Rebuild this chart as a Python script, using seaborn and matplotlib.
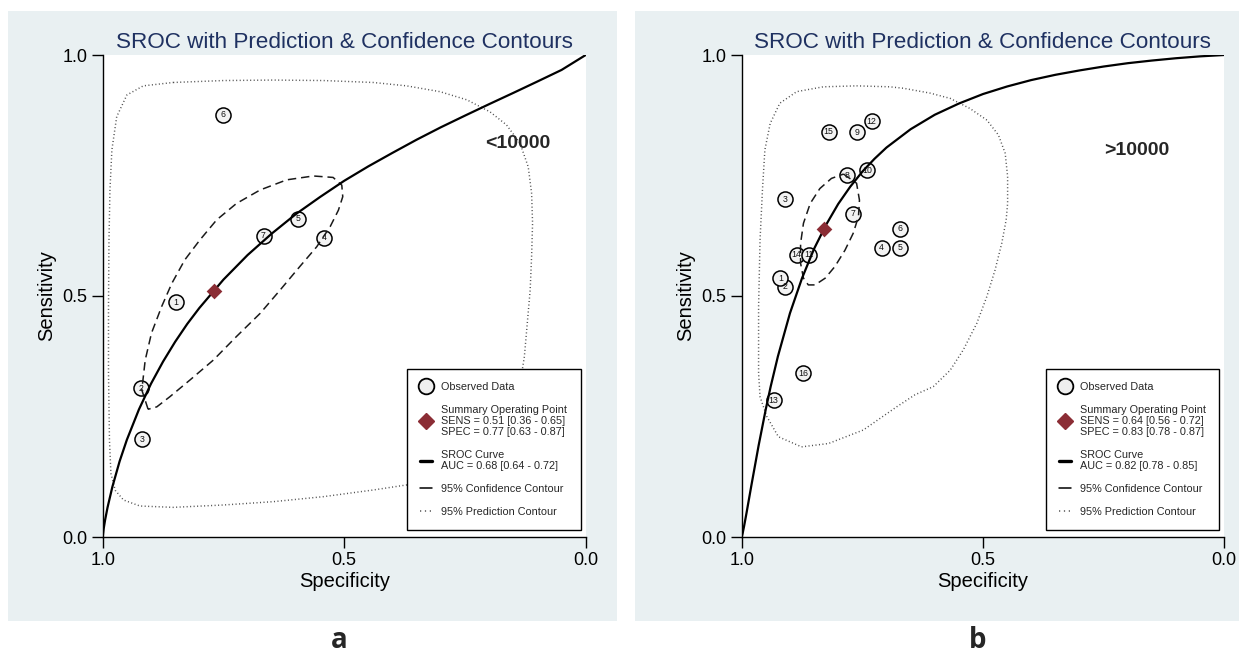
import numpy as np
import pandas as pd
import matplotlib
matplotlib.use("Agg")
import matplotlib.pyplot as plt
import seaborn as sns
from matplotlib.lines import Line2D
from matplotlib.patches import Rectangle

sns.set_style("white")
plt.rcParams["font.family"] = ["Liberation Sans", "DejaVu Sans"]

# ---------------- data: panel a (<10000) ----------------
a_ids = [1, 2, 3, 4, 5, 6, 7]
a_spec = [0.849, 0.921, 0.919, 0.541, 0.596, 0.750, 0.667]
a_sens = [0.487, 0.309, 0.203, 0.621, 0.660, 0.876, 0.625]
a_sum_spec = 0.77
a_sum_sens = 0.51
a_curve_spec = [1.0, 0.998, 0.995, 0.99, 0.98, 0.965, 0.95, 0.925, 0.9, 0.875, 0.85, 0.825,
                 0.8, 0.75, 0.7, 0.65, 0.6, 0.55, 0.5, 0.45, 0.4, 0.35, 0.3, 0.25, 0.2, 0.15,
                 0.1, 0.05, 0.0]
a_curve_sens = [0.0, 0.017, 0.0355, 0.0612, 0.104, 0.157, 0.2016, 0.2646, 0.318, 0.364, 0.405, 0.442,
                0.475, 0.534, 0.585, 0.6295, 0.670, 0.7054, 0.739, 0.769, 0.797, 0.8243, 0.850,
                0.8742, 0.898, 0.9213, 0.945, 0.969, 1.0]
a_conf_spec = [0.906, 0.919, 0.912, 0.899, 0.878, 0.857, 0.830, 0.799, 0.764, 0.723, 0.674, 0.619,
               0.564, 0.523, 0.505, 0.503, 0.512, 0.529, 0.557, 0.592, 0.633, 0.674, 0.723, 0.771,
               0.819, 0.861, 0.888]
a_conf_sens = [0.265, 0.305, 0.367, 0.423, 0.478, 0.526, 0.575, 0.616, 0.658, 0.692, 0.720, 0.741,
               0.749, 0.746, 0.730, 0.706, 0.678, 0.644, 0.602, 0.561, 0.512, 0.464, 0.416, 0.367,
               0.326, 0.291, 0.270]
a_pred_spec = [0.854, 0.750, 0.647, 0.543, 0.440, 0.371, 0.302, 0.246, 0.198, 0.164, 0.136, 0.119,
               0.112, 0.110, 0.112, 0.115, 0.121, 0.127, 0.139, 0.164, 0.205, 0.267, 0.322, 0.371,
               0.440, 0.543, 0.647, 0.750, 0.854, 0.923, 0.957, 0.974, 0.983, 0.986, 0.988, 0.988,
               0.987, 0.985, 0.981, 0.971, 0.950, 0.916]
a_pred_sens = [0.943, 0.947, 0.948, 0.947, 0.943, 0.936, 0.924, 0.907, 0.882, 0.855, 0.817, 0.768,
               0.713, 0.651, 0.582, 0.512, 0.443, 0.374, 0.298, 0.229, 0.174, 0.136, 0.115, 0.108,
               0.0975, 0.0837, 0.0733, 0.0664, 0.0615, 0.0643, 0.0768, 0.0968, 0.132, 0.201, 0.340, 0.478,
               0.616, 0.720, 0.803, 0.872, 0.917, 0.936]
a_group = "<10000"
a_group_pos = (0.140, 0.816)
a_legend = ["Observed Data",
            "Summary Operating Point\nSENS = 0.51 [0.36 - 0.65]\nSPEC = 0.77 [0.63 - 0.87]",
            "SROC Curve\nAUC = 0.68 [0.64 - 0.72]",
            "95% Confidence Contour",
            "95% Prediction Contour"]

# ---------------- data: panel b (>10000) ----------------
b_ids = [1, 2, 3, 4, 5, 6, 7, 8, 9, 10, 11, 12, 13, 14, 15, 16]
b_spec = [0.920, 0.910, 0.910, 0.710, 0.671, 0.671, 0.770, 0.781, 0.761, 0.740, 0.860, 0.731,
          0.934, 0.886, 0.820, 0.872]
b_sens = [0.537, 0.519, 0.701, 0.600, 0.600, 0.640, 0.671, 0.751, 0.840, 0.761, 0.586, 0.863,
          0.284, 0.586, 0.841, 0.340]
b_sum_spec = 0.83
b_sum_sens = 0.64
b_curve_spec = [1.0, 0.998, 0.995, 0.99, 0.98, 0.965, 0.95, 0.94, 0.925, 0.9, 0.875, 0.85, 0.825,
                0.8, 0.775, 0.75, 0.725, 0.7, 0.65, 0.6, 0.55, 0.5, 0.45, 0.4, 0.35, 0.3, 0.25,
                0.2, 0.15, 0.1, 0.05, 0.0]
b_curve_sens = [0.0, 0.0079, 0.0227, 0.0499, 0.1067, 0.1895, 0.2656, 0.312, 0.3747, 0.4643, 0.537,
                0.598, 0.648, 0.691, 0.7269, 0.758, 0.7845, 0.808, 0.846, 0.876, 0.8993, 0.919,
                0.9347, 0.948, 0.9589, 0.968, 0.9761, 0.983, 0.9885, 0.9933, 0.9972, 1.0]
b_conf_spec = [0.789, 0.762, 0.756, 0.758, 0.769, 0.786, 0.807, 0.827, 0.848, 0.862, 0.872, 0.878,
               0.878, 0.872, 0.858, 0.838, 0.814]
b_conf_sens = [0.753, 0.734, 0.699, 0.665, 0.630, 0.595, 0.561, 0.537, 0.523, 0.523, 0.537, 0.568,
               0.609, 0.651, 0.692, 0.723, 0.744]
b_pred_spec = [0.762, 0.693, 0.665, 0.610, 0.568, 0.527, 0.492, 0.468, 0.454, 0.449, 0.449, 0.452,
               0.461, 0.475, 0.492, 0.513, 0.541, 0.568, 0.603, 0.641, 0.679, 0.748, 0.820, 0.876,
               0.924, 0.948, 0.962, 0.965, 0.965, 0.962, 0.957, 0.952, 0.941, 0.921, 0.886, 0.831]
b_pred_sens = [0.936, 0.934, 0.931, 0.921, 0.910, 0.889, 0.865, 0.834, 0.796, 0.748, 0.692, 0.658,
               0.610, 0.554, 0.499, 0.443, 0.388, 0.346, 0.312, 0.295, 0.270, 0.222, 0.194, 0.187,
               0.208, 0.250, 0.291, 0.340, 0.478, 0.616, 0.720, 0.803, 0.858, 0.900, 0.924, 0.934]
b_group = ">10000"
b_group_pos = (0.181, 0.801)
b_legend = ["Observed Data",
            "Summary Operating Point\nSENS = 0.64 [0.56 - 0.72]\nSPEC = 0.83 [0.78 - 0.87]",
            "SROC Curve\nAUC = 0.82 [0.78 - 0.85]",
            "95% Confidence Contour",
            "95% Prediction Contour"]

panel_letters = ["a", "b"]
title_text = "SROC with Prediction & Confidence Contours"
tick_vals = [0.0, 0.5, 1.0]
tick_text = ["0.0", "0.5", "1.0"]

# ---------------- styling ----------------
W, H = 1239, 656
BG = "#e9f0f2"
NAVY = "#1f3161"
MAROON = "#8b2d35"
DOT = (0, (0.7, 1.7))
DASH = (0, (5.5, 3.2))

fig = plt.figure(figsize=(W / 100, H / 100), dpi=100)
fig.patch.set_facecolor("white")


def px_rect(x0, y0, x1, y1):
    return [x0 / W, 1 - y1 / H, (x1 - x0) / W, (y1 - y0) / H]


for (x0, y0, x1, y1) in [(8, 11, 617, 621), (635, 11, 1239, 621)]:
    r = px_rect(x0, y0, x1, y1)
    fig.add_artist(Rectangle((r[0], r[1]), r[2], r[3], transform=fig.transFigure,
                             facecolor=BG, edgecolor="none", zorder=0))

ax_a = fig.add_axes(px_rect(102.7, 55, 585.7, 537))
ax_b = fig.add_axes(px_rect(741.7, 55, 1224.3, 537))


def closed(v):
    return list(v) + [v[0]]


def draw_panel(ax, ids, spec, sens, sum_spec, sum_sens, c_spec, c_sens, cf_spec, cf_sens,
               p_spec, p_sens, group, group_pos, legend_labels):
    ax.set_facecolor("white")
    df = pd.DataFrame({"spec": spec, "sens": sens, "id": ids}).iloc[::-1]
    sns.scatterplot(data=df, x="spec", y="sens", marker="o", s=118, color="#f3f3f3",
                    edgecolor="black", linewidth=1.1, zorder=2, ax=ax, legend=False)
    for _, row in df.iterrows():
        ax.text(row["spec"], row["sens"], str(int(row["id"])), fontsize=6.3,
                ha="center", va="center", zorder=3, color="#111111")
    sns.lineplot(x=closed(p_spec), y=closed(p_sens), sort=False, estimator=None,
                 color="#4d4d4d", lw=1.05, linestyle=DOT, zorder=4, ax=ax)
    sns.lineplot(x=closed(cf_spec), y=closed(cf_sens), sort=False, estimator=None,
                 color="#1a1a1a", lw=1.1, linestyle=DASH, zorder=4, ax=ax)
    sns.lineplot(x=c_spec, y=c_sens, sort=False, estimator=None,
                 color="black", lw=1.6, zorder=4, ax=ax)
    sns.scatterplot(x=[sum_spec], y=[sum_sens], marker="D", s=64, color=MAROON,
                    edgecolor=MAROON, linewidth=0, zorder=5, ax=ax, legend=False)

    ax.text(group_pos[0], group_pos[1], group, fontsize=14, fontweight="bold",
            ha="center", va="center", zorder=6)

    ax.set_xlim(1, 0)
    ax.set_ylim(0, 1)
    ax.set_xticks(tick_vals)
    ax.set_xticklabels(tick_text)
    ax.set_yticks(tick_vals)
    ax.set_yticklabels(tick_text)
    sns.despine(ax=ax)
    for s in ["left", "bottom"]:
        ax.spines[s].set_color("black")
        ax.spines[s].set_linewidth(1.0)
    ax.tick_params(direction="out", length=8, width=1.0, labelsize=13, colors="black",
                   left=True, bottom=True)
    ax.tick_params(axis="x", pad=2.5)
    ax.tick_params(axis="y", pad=3)
    ax.set_xlabel("Specificity", fontsize=14.5, color="black")
    ax.set_ylabel("Sensitivity", fontsize=14.5, color="black")
    ax.xaxis.set_label_coords(0.5, -0.072)
    ax.yaxis.set_label_coords(-0.097, 0.5)
    ax.set_title(title_text, fontsize=16.2, color=NAVY, pad=5)

    handles = [
        Line2D([], [], ls="none", marker="o", ms=11.3, mfc="#efefef", mec="black", mew=1.3),
        Line2D([], [], ls="none", marker="D", ms=8.5, mfc=MAROON, mec=MAROON),
        Line2D([], [], color="black", lw=2.4),
        Line2D([], [], color="black", lw=1.1),
        Line2D([], [], color="#555555", lw=1.1, ls=(0, (0.8, 2.4))),
    ]
    leg = ax.legend(handles, legend_labels, loc="upper left",
                    bbox_to_anchor=(0.630, 0.0145, 0.36, 0.334), mode="expand",
                    bbox_transform=ax.transAxes, frameon=True, fancybox=False,
                    edgecolor="black", facecolor="white", framealpha=1,
                    borderpad=1.2, handlelength=1.1, handletextpad=0.85,
                    labelspacing=1.22, borderaxespad=0,
                    prop={"family": "Liberation Sans", "size": 7.8})
    leg.get_frame().set_linewidth(1.0)
    leg.set_zorder(10)
    for t in leg.get_texts():
        t.set_linespacing(1.1)


draw_panel(ax_a, a_ids, a_spec, a_sens, a_sum_spec, a_sum_sens, a_curve_spec, a_curve_sens,
           a_conf_spec, a_conf_sens, a_pred_spec, a_pred_sens, a_group, a_group_pos, a_legend)
draw_panel(ax_b, b_ids, b_spec, b_sens, b_sum_spec, b_sum_sens, b_curve_spec, b_curve_sens,
           b_conf_spec, b_conf_sens, b_pred_spec, b_pred_sens, b_group, b_group_pos, b_legend)

for letter, xpx in zip(panel_letters, [339, 978]):
    fig.text(xpx / W, 1 - 648 / H, letter, fontsize=20, fontweight="bold",
             family=["Open Sans", "DejaVu Sans"], ha="center", va="baseline")

fig.savefig("out.png", dpi=100)
